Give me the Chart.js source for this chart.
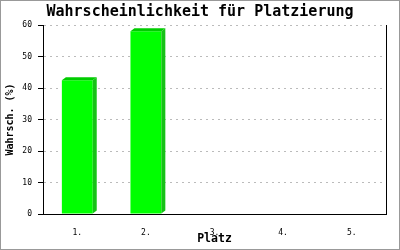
<!DOCTYPE html>
<html>
<head>
<meta charset="utf-8">
<script src="https://cdn.jsdelivr.net/npm/chart.js@4"></script>
<style>
  html, body { margin: 0; padding: 0; background: #fff; }
  #wrap { width: 400px; height: 250px; }
</style>
</head>
<body>
<div id="wrap"><canvas id="chart" width="400" height="250"></canvas></div>
<script>
// data
const places = ['1.', '2.', '3.', '4.', '5.'];
const chances = [42.5, 58, 0, 0, 0];
const yTicks = [0, 10, 20, 30, 40, 50, 60];

const MONO = '"DejaVu Sans Mono", "Liberation Mono", monospace';

// fake 3d: side and top faces next to each bar, plus frame bits
const extras = {
    id: 'extras',
    afterDatasetsDraw(c) {
        const ctx = c.ctx;
        const d = 4, h = 3;
        c.getDatasetMeta(0).data.forEach((bar, i) => {
            if (!chances[i]) return;
            const p = bar.getProps(['x', 'y', 'base', 'width'], true);
            const l = p.x - p.width / 2, r = p.x + p.width / 2;
            ctx.save();
            ctx.fillStyle = '#17c217';
            ctx.beginPath();
            ctx.moveTo(r, p.y);
            ctx.lineTo(r + d, p.y - h);
            ctx.lineTo(r + d, p.base - h);
            ctx.lineTo(r, p.base);
            ctx.closePath();
            ctx.fill();
            ctx.fillStyle = '#00cc00';
            ctx.beginPath();
            ctx.moveTo(l, p.y);
            ctx.lineTo(l + d, p.y - h);
            ctx.lineTo(r + d, p.y - h);
            ctx.lineTo(r, p.y);
            ctx.closePath();
            ctx.fill();
            ctx.restore();
        });
    },
    afterDraw(c) {
        const ctx = c.ctx, a = c.chartArea;
        ctx.save();
        ctx.strokeStyle = '#000';
        ctx.lineWidth = 1;
        ctx.beginPath();
        ctx.moveTo(Math.round(a.right) + 0.5, a.top);
        ctx.lineTo(Math.round(a.right) + 0.5, a.bottom);
        ctx.stroke();
        ctx.strokeStyle = '#999';
        ctx.strokeRect(0.5, 0.5, 399, 249);
        ctx.restore();
    }
};

new Chart(document.getElementById('chart'), {
    type: 'bar',
    data: {
        labels: places,
        datasets: [{
            data: chances,
            backgroundColor: '#00ff00',
            borderWidth: 0,
            categoryPercentage: 1,
            barPercentage: 0.45
        }]
    },
    options: {
        responsive: false,
        animation: false,
        events: [],
        layout: { padding: 0 },
        plugins: {
            legend: { display: false },
            tooltip: { enabled: false },
            title: {
                display: true,
                text: 'Wahrscheinlichkeit für Platzierung',
                color: '#000',
                font: { family: MONO, size: 15, weight: 'bold' },
                padding: { top: 3, bottom: 4 }
            }
        },
        scales: {
            x: {
                afterFit: s => { s.height = 36; },
                grid: { display: false },
                border: { display: true, color: '#000', width: 1 },
                ticks: { color: '#000', font: { family: MONO, size: 8 }, padding: 6, maxRotation: 0 },
                title: {
                    display: true, text: 'Platz', color: '#000',
                    font: { family: MONO, size: 11.5, weight: 'bold' },
                    padding: { top: 0, bottom: 4 }
                }
            },
            y: {
                min: 0,
                max: 60,
                afterFit: s => { s.width = 43; },
                afterBuildTicks: s => { s.ticks = yTicks.map(v => ({ value: v })); },
                grid: {
                    color: '#bbb',
                    tickColor: '#000',
                    tickLength: 5,
                    tickBorderDash: []
                },
                border: { display: true, color: '#000', width: 1, dash: [2, 4] },
                ticks: { color: '#000', font: { family: MONO, size: 8 }, padding: 6 },
                title: {
                    display: true, text: 'Wahrsch. (%)', color: '#000',
                    font: { family: MONO, size: 10, weight: 'bold' },
                    padding: { top: 4, bottom: 0 }
                }
            },
            // empty right axis, only keeps the gap on the right
            y2: {
                position: 'right',
                min: 0,
                max: 60,
                afterFit: s => { s.width = 14; },
                grid: { display: false },
                border: { display: false },
                ticks: { display: false }
            }
        }
    },
    plugins: [extras]
});
</script>
</body>
</html>
